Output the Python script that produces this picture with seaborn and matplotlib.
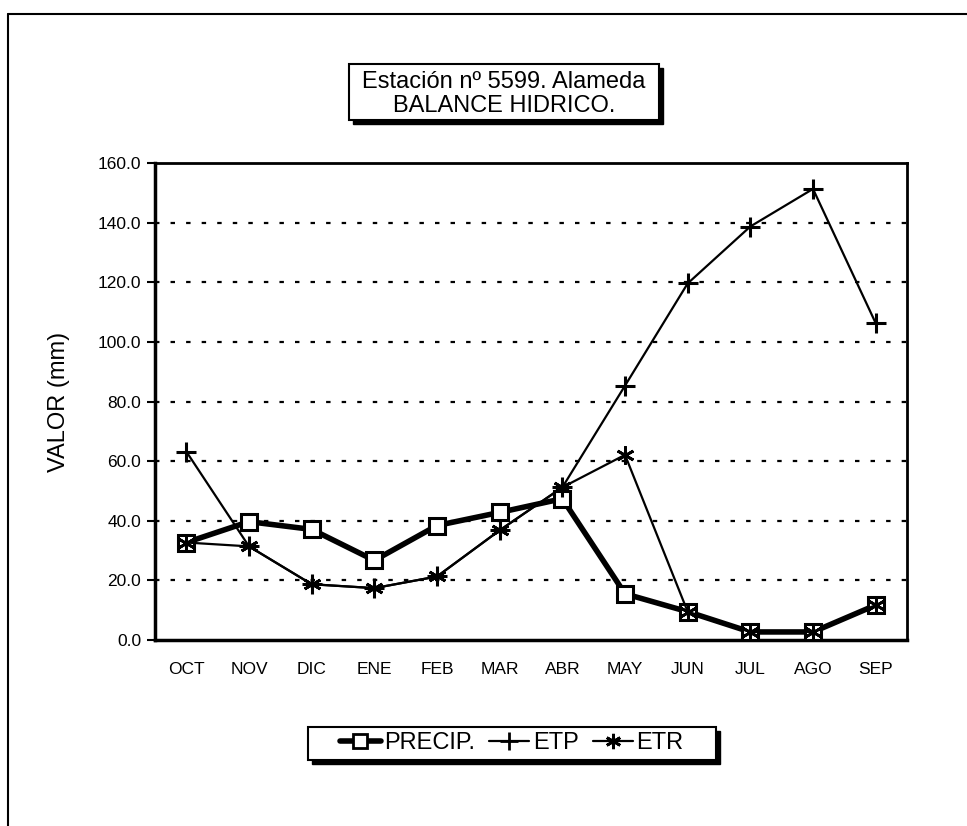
import numpy as np
import pandas as pd
import matplotlib
matplotlib.use("Agg")
import matplotlib.pyplot as plt
import seaborn as sns
from matplotlib.patches import Rectangle
from matplotlib.lines import Line2D

sns.set_style("white")
plt.rcParams['font.family'] = ['Liberation Sans', 'DejaVu Sans']
plt.rcParams['text.color'] = 'black'
plt.rcParams['axes.labelcolor'] = 'black'
plt.rcParams['xtick.color'] = 'black'
plt.rcParams['ytick.color'] = 'black'

# Datos del balance hídrico
meses = ['OCT', 'NOV', 'DIC', 'ENE', 'FEB', 'MAR', 'ABR', 'MAY', 'JUN', 'JUL', 'AGO', 'SEP']
precip = [32.7, 39.7, 37.1, 26.7, 38.4, 42.8, 47.4, 15.5, 9.5, 2.7, 2.7, 11.7]
etp = [63.2, 31.4, 18.7, 17.4, 21.3, 36.8, 51.2, 85.3, 119.6, 138.7, 151.3, 106.3]
etr = [32.7, 31.4, 18.7, 17.4, 21.3, 36.8, 51.2, 62.1, 9.5, 2.7, 2.7, 11.7]

df = pd.DataFrame({'mes': meses, 'PRECIP.': precip, 'ETP': etp, 'ETR': etr})
df['x'] = np.arange(len(meses))

W, H = 967, 826
fig = plt.figure(figsize=(W / 100, H / 100), dpi=100)
ax = fig.add_axes([155 / W, 1 - 640 / H, (907 - 155) / W, (640 - 163) / H])

# Líneas
sns.lineplot(data=df, x='x', y='PRECIP.', ax=ax, color='black', linewidth=4,
             marker='s', markersize=12, markerfacecolor='white',
             markeredgecolor='black', markeredgewidth=2.2, zorder=3)
sns.lineplot(data=df, x='x', y='ETP', ax=ax, color='black', linewidth=1.6,
             marker='+', markersize=14, markeredgecolor='black',
             markeredgewidth=2.2, zorder=4)
sns.lineplot(data=df, x='x', y='ETR', ax=ax, color='black', linewidth=1.6,
             marker=(6, 2, 0), markersize=13, markeredgecolor='black',
             markeredgewidth=2.0, zorder=4)

ax.set_xlim(-0.5, len(meses) - 0.5)
ax.set_ylim(0, 160)
ax.set_yticks(np.arange(0, 161, 20))
ax.set_yticklabels([f'{v:.1f}' for v in np.arange(0, 161, 20)], fontsize=12.5)
ax.set_xticks(df['x'])
ax.set_xticklabels(meses, fontsize=12.5)
ax.set_xticks(np.arange(0.5, len(meses) - 1, 1), minor=True)
ax.tick_params(axis='x', which='major', length=0, pad=16)
ax.tick_params(axis='x', which='minor', direction='in', length=5, width=1.2)
ax.tick_params(axis='y', direction='out', length=6, width=1.5, left=True, pad=4)
ax.set_xlabel('')
ax.set_ylabel('VALOR (mm)', fontsize=17, labelpad=20)

for v in np.arange(20, 160, 20):
    ax.axhline(v, color='black', linestyle=(0, (2, 5)), linewidth=1.6, zorder=1)

for s in ax.spines.values():
    s.set_visible(True)
    s.set_color('black')
ax.spines['left'].set_linewidth(2.5)
ax.spines['bottom'].set_linewidth(2.5)
ax.spines['top'].set_linewidth(2)
ax.spines['right'].set_linewidth(2)

# Marco exterior
fig.add_artist(Line2D([8 / W, 8 / W], [0, 1 - 14 / H], transform=fig.transFigure,
                      color='black', linewidth=1.5))
fig.add_artist(Line2D([8 / W, 1], [1 - 14 / H, 1 - 14 / H], transform=fig.transFigure,
                      color='black', linewidth=1.5))

# Cuadro del título
def caja(x0, y0, x1, y1):
    fig.add_artist(Rectangle((x0 / W + 4 / W, 1 - (y1 + 4) / H), (x1 - x0) / W, (y1 - y0) / H,
                             transform=fig.transFigure, facecolor='black', edgecolor='black'))
    fig.add_artist(Rectangle((x0 / W, 1 - y1 / H), (x1 - x0) / W, (y1 - y0) / H,
                             transform=fig.transFigure, facecolor='white', edgecolor='black',
                             linewidth=1.5))

caja(349, 64, 659, 120)
fig.text(504 / W, 1 - 82 / H, 'Estación nº 5599. Alameda', ha='center', va='center', fontsize=17)
fig.text(504 / W, 1 - 106 / H, 'BALANCE HIDRICO.', ha='center', va='center', fontsize=17)

# Leyenda
caja(308, 727, 716, 760)
handles = [
    Line2D([], [], color='black', linewidth=4, marker='s', markersize=10,
           markerfacecolor='white', markeredgecolor='black', markeredgewidth=2),
    Line2D([], [], color='black', linewidth=1.6, marker='+', markersize=13, markeredgewidth=2),
    Line2D([], [], color='black', linewidth=1.6, marker=(6, 2, 0), markersize=11, markeredgewidth=2),
]
fig.legend(handles, ['PRECIP.', 'ETP', 'ETR'], loc='center', ncol=3,
           bbox_to_anchor=(512 / W, 1 - 743 / H), frameon=False, fontsize=17,
           handlelength=1.7, handletextpad=0.15, columnspacing=0.6)

fig.savefig('out.png', dpi=100)
